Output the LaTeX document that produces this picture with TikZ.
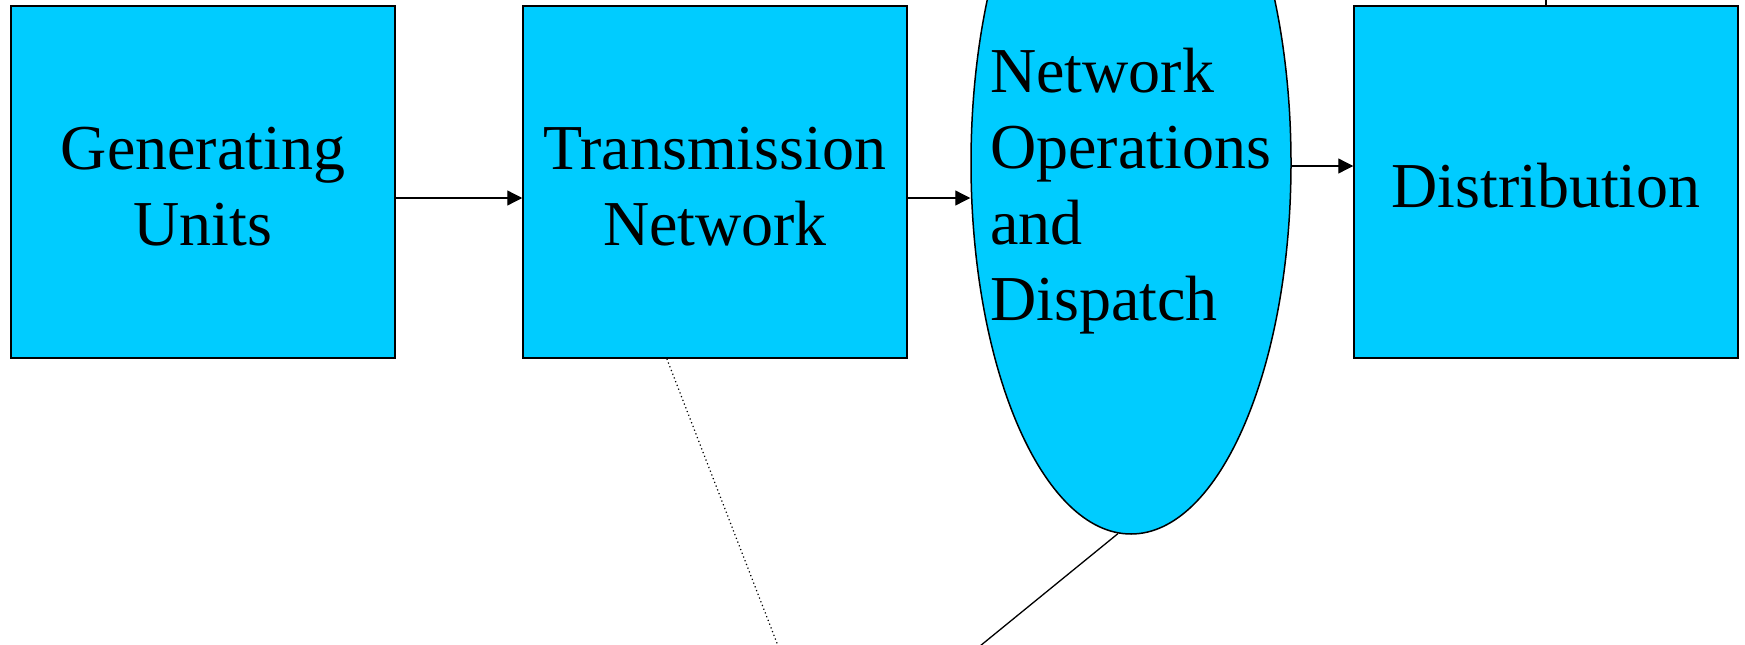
\documentclass[tikz,border=0pt]{standalone}
\usepackage{fontspec}
\setmainfont{Liberation Serif}
\usetikzlibrary{shapes.geometric,arrows.meta,calc}
\definecolor{boxcyan}{RGB}{0,204,255}
\begin{document}
\begin{tikzpicture}[x=1pt,y=-1pt,
  bigfont/.style={font=\fontsize{64}{76}\selectfont},
  box/.style={draw,line width=1.5pt,fill=boxcyan,minimum width=384pt,minimum height=352pt,inner sep=0pt},
  boxtext/.style={bigfont,align=center,inner sep=0pt},
  oval/.style={draw,line width=1.5pt,fill=boxcyan,ellipse,minimum width=320pt,minimum height=742pt,inner sep=0pt},
  arr/.style={-{Triangle[length=15pt,width=15pt]},line width=1.3pt},
  link/.style={line width=1.3pt},
  dotlink/.style={line width=1.2pt,dash pattern=on 1.2pt off 2.8pt}]
\useasboundingbox (0,0) rectangle (1745,645);
\clip (0,0) rectangle (1745,645);
\node[box] (gu) at (203,182) {};
\node[box] (tn) at (715,182) {};
\node[box] (ds) at (1546,182) {};
\node[boxtext] (gutx) at ([yshift=-4.5pt]gu.center) {Generating\\Units};
\node[boxtext] (tntx) at ([yshift=-4.5pt]tn.center) {Transmission\\Network};
\node[boxtext] (dstx) at ([yshift=-3.5pt]ds.center) {Distribution};
\node[oval] (ne) at (1131,163) {};
\node[bigfont,align=left,inner sep=0pt,anchor=west] (netx) at (990,191) {Network\\Operations\\and\\Dispatch};
\coordinate (r1) at (0,198);
\coordinate (r2) at (0,166);
\draw[arr] (gu.east |- r1) -- (tn.west |- r1);
\draw[arr] (tn.east |- r1) -- (ne.west |- r1);
\draw[arr] (ne.east |- r2) -- (ds.west |- r2);
\coordinate (dstart) at ($(tn.south west)!0.375!(tn.south east)$);
\coordinate (dend) at (799,700);
\draw[dotlink] (dstart) -- (dend);
\coordinate (send) at (926,690);
\draw[link] (ne.268) -- (send);
\coordinate (tend) at (1546,-40);
\draw[link] (ds.north) -- (tend);
\end{tikzpicture}
\end{document}
